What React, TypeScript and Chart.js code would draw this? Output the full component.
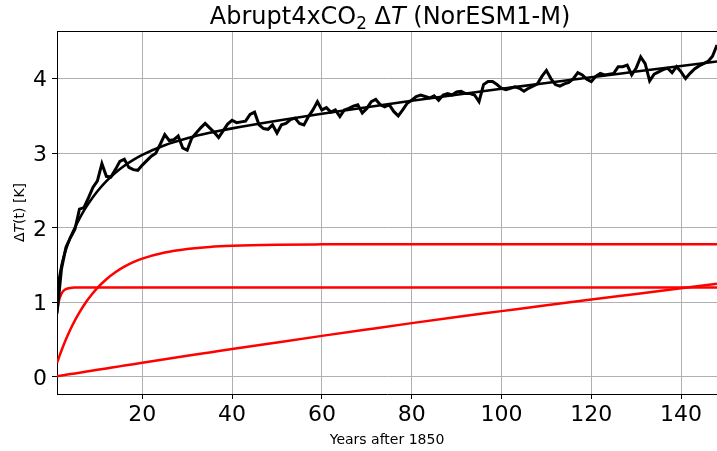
import React, { useEffect, useRef } from "react";
import { Chart, registerables } from "chart.js";

Chart.register(...registerables);

// Annual temperature response (years after 1850)
const years: number[] = Array.from({ length: 148 }, (_, i) => i + 1);
const deltaT: number[] = [
  0.85, 1.45, 1.74, 1.87, 1.98, 2.25, 2.27, 2.40, 2.54, 2.63,
  2.86, 2.69, 2.68, 2.78, 2.89, 2.92, 2.81, 2.78, 2.77, 2.84,
  2.90, 2.96, 3.00, 3.12, 3.25, 3.17, 3.18, 3.23, 3.07, 3.04,
  3.20, 3.27, 3.34, 3.40, 3.34, 3.28, 3.21, 3.30, 3.39, 3.44,
  3.41, 3.42, 3.43, 3.52, 3.55, 3.38, 3.33, 3.32, 3.38, 3.27,
  3.38, 3.40, 3.45, 3.47, 3.40, 3.38, 3.49, 3.58, 3.69, 3.58,
  3.61, 3.55, 3.58, 3.49, 3.58, 3.60, 3.63, 3.65, 3.54, 3.60,
  3.69, 3.72, 3.65, 3.62, 3.65, 3.56, 3.50, 3.58, 3.67, 3.71,
  3.76, 3.78, 3.76, 3.74, 3.77, 3.71, 3.78, 3.80, 3.78, 3.82,
  3.83, 3.80, 3.80, 3.78, 3.69, 3.92, 3.96, 3.96, 3.92, 3.87,
  3.85, 3.87, 3.89, 3.87, 3.83, 3.87, 3.90, 3.93, 4.03, 4.11,
  4.00, 3.92, 3.90, 3.93, 3.95, 4.00, 4.08, 4.05, 3.99, 3.96,
  4.03, 4.07, 4.05, 4.06, 4.07, 4.16, 4.16, 4.18, 4.05, 4.14,
  4.29, 4.20, 3.97, 4.06, 4.09, 4.12, 4.14, 4.08, 4.16, 4.09,
  4.00, 4.07, 4.13, 4.17, 4.20, 4.23, 4.30, 4.45,
];

// Fitted curves sampled at these years
const fitYears: number[] = [
  1, 1.25, 1.5, 2, 2.5, 3, 4, 5, 6, 7, 8, 10, 12, 14, 16, 18, 20,
  25, 30, 35, 40, 50, 60, 70, 80, 90, 100, 110, 120, 130, 140, 148,
];
const fitTotal: number[] = [
  1.081, 1.216, 1.326, 1.491, 1.613, 1.712, 1.872, 2.006, 2.124, 2.230, 2.325,
  2.490, 2.626, 2.738, 2.832, 2.911, 2.978, 3.107, 3.200, 3.273, 3.333,
  3.436, 3.529, 3.617, 3.702, 3.784, 3.863, 3.942, 4.019, 4.094, 4.169, 4.229,
];
const fitFast: number[] = [
  0.884, 0.973, 1.038, 1.117, 1.157, 1.178, 1.194, 1.199, 1.2, 1.2, 1.2,
  1.2, 1.2, 1.2, 1.2, 1.2, 1.2, 1.2, 1.2, 1.2, 1.2,
  1.2, 1.2, 1.2, 1.2, 1.2, 1.2, 1.2, 1.2, 1.2, 1.2, 1.2,
];
const fitMedium: number[] = [
  0.187, 0.231, 0.273, 0.355, 0.432, 0.505, 0.639, 0.759, 0.866, 0.962, 1.048,
  1.194, 1.311, 1.404, 1.479, 1.539, 1.587, 1.669, 1.716, 1.744, 1.759,
  1.773, 1.778, 1.78, 1.78, 1.78, 1.78, 1.78, 1.78, 1.78, 1.78, 1.78,
];
const fitSlow: number[] = [
  0.010, 0.012, 0.015, 0.019, 0.024, 0.029, 0.039, 0.048, 0.058, 0.068, 0.077,
  0.096, 0.115, 0.134, 0.153, 0.172, 0.191, 0.238, 0.284, 0.329, 0.374,
  0.463, 0.551, 0.637, 0.722, 0.804, 0.883, 0.962, 1.039, 1.114, 1.189, 1.249,
];

const xTicks: number[] = [20, 40, 60, 80, 100, 120, 140];
const yTicks: number[] = [0, 1, 2, 3, 4];

const FONT = "'DejaVu Sans', sans-serif";

type Seg = { t: string; italic?: boolean; sub?: boolean };

function drawSegments(
  ctx: CanvasRenderingContext2D,
  segs: Seg[],
  size: number,
  cx: number,
  baseline: number
) {
  const fontOf = (s: Seg) =>
    `${s.italic ? "oblique " : ""}${s.sub ? size * 0.7 : size}px ${FONT}`;
  let total = 0;
  const widths = segs.map((s) => {
    ctx.font = fontOf(s);
    const w = ctx.measureText(s.t).width;
    total += w;
    return w;
  });
  let x = cx - total / 2;
  ctx.textAlign = "left";
  ctx.textBaseline = "alphabetic";
  segs.forEach((s, i) => {
    ctx.font = fontOf(s);
    ctx.fillText(s.t, x, baseline + (s.sub ? size * 0.2 : 0));
    x += widths[i];
  });
}

const textPlugin = {
  id: "customText",
  afterDraw(chart: any) {
    const ctx: CanvasRenderingContext2D = chart.ctx;
    const a = chart.chartArea;
    ctx.save();
    // top spine
    ctx.strokeStyle = "#000";
    ctx.lineWidth = 1;
    ctx.beginPath();
    ctx.moveTo(a.left, a.top + 0.5);
    ctx.lineTo(a.right, a.top + 0.5);
    ctx.stroke();
    ctx.fillStyle = "#000";
    // title
    drawSegments(
      ctx,
      [
        { t: "Abrupt4xCO" },
        { t: "2", sub: true },
        { t: " \u0394" },
        { t: "T", italic: true },
        { t: " (NorESM1-M)" },
      ],
      24,
      390,
      24
    );
    // x axis title
    drawSegments(ctx, [{ t: "Years after 1850" }], 14, (a.left + a.right) / 2, 444);
    // y axis title
    ctx.save();
    ctx.translate(24, (a.top + a.bottom) / 2);
    ctx.rotate(-Math.PI / 2);
    drawSegments(
      ctx,
      [{ t: "\u0394" }, { t: "T", italic: true }, { t: "(t) [K]" }],
      14,
      0,
      0
    );
    ctx.restore();
    ctx.restore();
  },
};

export default function App() {
  const ref = useRef<HTMLCanvasElement | null>(null);

  useEffect(() => {
    if (!ref.current) return;
    Chart.defaults.font.family = FONT;
    const pts = (xs: number[], ys: number[]) => xs.map((x, i) => ({ x, y: ys[i] }));
    const chart = new Chart(ref.current, {
      type: "line",
      data: {
        datasets: [
          {
            data: pts(years, deltaT),
            borderColor: "#000",
            borderWidth: 3,
            pointRadius: 0,
            tension: 0,
          },
          {
            data: pts(fitYears, fitTotal),
            borderColor: "#000",
            borderWidth: 2.6,
            pointRadius: 0,
            cubicInterpolationMode: "monotone",
          },
          {
            data: pts(fitYears, fitFast),
            borderColor: "#ff0000",
            borderWidth: 2.5,
            pointRadius: 0,
            cubicInterpolationMode: "monotone",
          },
          {
            data: pts(fitYears, fitMedium),
            borderColor: "#ff0000",
            borderWidth: 2.5,
            pointRadius: 0,
            cubicInterpolationMode: "monotone",
          },
          {
            data: pts(fitYears, fitSlow),
            borderColor: "#ff0000",
            borderWidth: 2.5,
            pointRadius: 0,
            cubicInterpolationMode: "monotone",
          },
        ],
      },
      options: {
        animation: false,
        responsive: false,
        devicePixelRatio: 1,
        layout: { padding: { top: 31, left: 0, right: 0, bottom: 0 } },
        plugins: { legend: { display: false }, tooltip: { enabled: false }, title: { display: false } },
        scales: {
          x: {
            type: "linear",
            min: 1,
            max: 148,
            afterBuildTicks: (s: any) => {
              s.ticks = xTicks.map((v) => ({ value: v }));
            },
            afterFit: (s: any) => {
              s.height = 57;
            },
            grid: { color: "#b0b0b0", lineWidth: 1, tickColor: "#000", tickLength: 5 },
            border: { color: "#000", width: 1 },
            ticks: { color: "#000", font: { size: 22 }, padding: 3, maxRotation: 0 },
          },
          y: {
            type: "linear",
            min: -0.228,
            max: 4.638,
            afterBuildTicks: (s: any) => {
              s.ticks = yTicks.map((v) => ({ value: v }));
            },
            afterFit: (s: any) => {
              s.width = 57;
            },
            grid: { color: "#b0b0b0", lineWidth: 1, tickColor: "#000", tickLength: 5 },
            border: { color: "#000", width: 1 },
            ticks: { color: "#000", font: { size: 22 }, padding: 5, labelOffset: 2 },
          },
        },
      },
      plugins: [textPlugin],
    } as any);
    return () => chart.destroy();
  }, []);

  return (
    <div style={{ position: "fixed", left: 0, top: 0, width: 717, height: 451, background: "#fff" }}>
      <canvas ref={ref} width={717} height={451} style={{ width: 717, height: 451, display: "block" }} />
    </div>
  );
}
